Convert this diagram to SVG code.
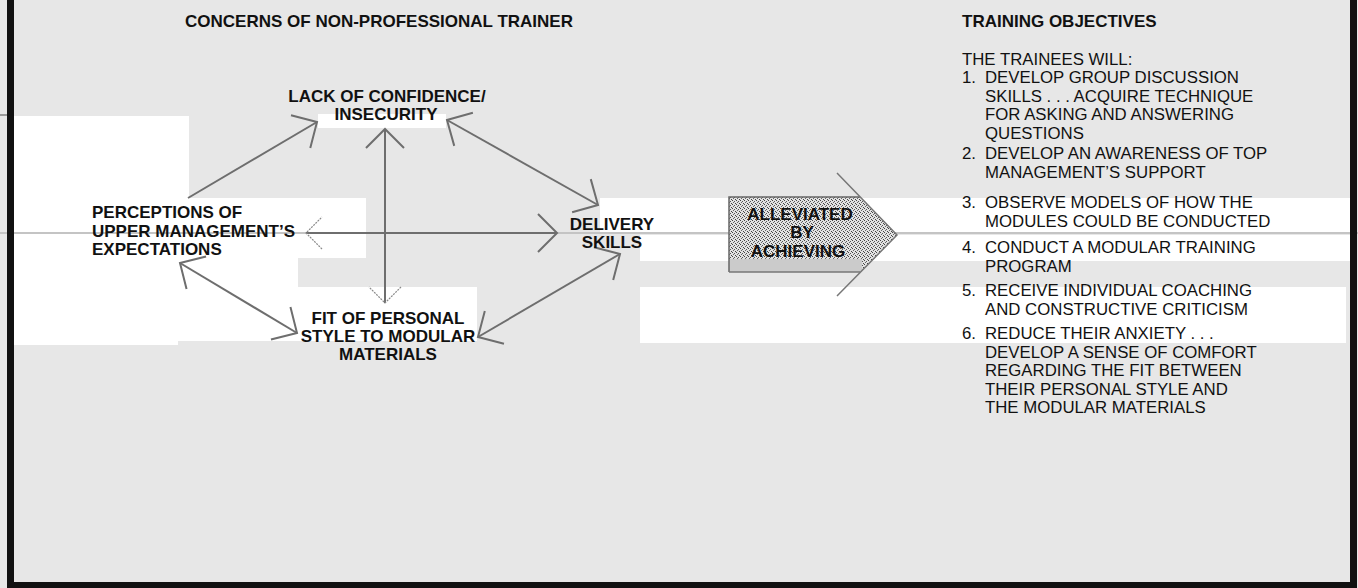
<svg xmlns="http://www.w3.org/2000/svg" width="1358" height="588" viewBox="0 0 1358 588">
<style>
.bg{fill:#e7e7e7}
.wh{fill:#ffffff}
.t{font-family:"Liberation Sans",Arial,sans-serif;fill:#111}
.b{font-weight:bold;font-size:17px}
.r{font-size:16.8px}
.c{text-anchor:middle}
.con{stroke:#6e6e6e;stroke-width:2;fill:none}
</style>
<defs>
<marker id="ah" markerUnits="userSpaceOnUse" viewBox="-25 -25 30 50" refX="0" refY="0" markerWidth="30" markerHeight="50" orient="auto-start-reverse" overflow="visible">
<path d="M -19 -19 L 0 0 L -19 19" fill="none" stroke="#6e6e6e" stroke-width="2"/>
</marker>
<marker id="ahl" markerUnits="userSpaceOnUse" viewBox="-25 -25 30 50" refX="0" refY="0" markerWidth="30" markerHeight="50" orient="auto-start-reverse" overflow="visible">
<path d="M -16 -16 L 0 0 L -16 16" fill="none" stroke="#8a8a8a" stroke-width="1.2" stroke-dasharray="2 1"/>
</marker>
<pattern id="stip" width="4" height="4" patternUnits="userSpaceOnUse">
<rect width="4" height="4" fill="#e2e2e2"/>
<rect x="0" y="0" width="1" height="1" fill="#444"/>
<rect x="2" y="1" width="1" height="1" fill="#555"/>
<rect x="1" y="2" width="1" height="1" fill="#666"/>
<rect x="3" y="3" width="1" height="1" fill="#444"/>
</pattern>
</defs>

<g id="background">
<rect class="bg" x="0" y="0" width="1358" height="588"/>
<rect class="wh" x="13" y="116" width="176" height="142"/>
<rect class="wh" x="13" y="198" width="353" height="60"/>
<rect class="wh" x="13" y="258" width="165" height="87"/>
<rect class="wh" x="178" y="258" width="120" height="83"/>
<rect class="wh" x="298" y="287" width="179" height="54"/>
<rect class="wh" x="318" y="114" width="128" height="14"/>
<rect class="wh" x="600" y="198" width="750" height="35"/>
<rect class="wh" x="640" y="235" width="710" height="26"/>
<rect class="wh" x="640" y="287" width="706" height="56"/>
<line x1="0" y1="233" x2="1358" y2="233" stroke="#c4c4c4" stroke-width="2"/>
<line x1="0" y1="115" x2="14" y2="115" stroke="#9a9a9a" stroke-width="2"/>
<rect x="7" y="0" width="7" height="588" fill="#111"/>
<rect x="1350" y="0" width="7" height="588" fill="#111"/>
<rect x="7" y="582" width="1350" height="6" fill="#111"/>
</g>

<g id="connectors">
<line class="con" x1="188" y1="198" x2="317" y2="122" marker-end="url(#ah)"/>
<line class="con" x1="385" y1="129" x2="385" y2="303" marker-start="url(#ah)" marker-end="url(#ahl)"/>
<line class="con" x1="306" y1="233" x2="557" y2="233" marker-start="url(#ahl)" marker-end="url(#ah)"/>
<line class="con" x1="447" y1="120" x2="598" y2="205" marker-start="url(#ah)" marker-end="url(#ah)"/>
<line class="con" x1="180" y1="263" x2="297" y2="333" marker-start="url(#ah)" marker-end="url(#ah)"/>
<line class="con" x1="620" y1="254" x2="478" y2="337" marker-start="url(#ah)" marker-end="url(#ah)"/>
</g>

<g id="title-concerns">
<text class="t b c" x="379" y="27">CONCERNS OF NON-PROFESSIONAL TRAINER</text>
</g>

<g id="node-lack">
<text class="t b c" x="387" y="102">LACK OF CONFIDENCE/</text>
<text class="t b c" x="386" y="120">INSECURITY</text>
</g>

<g id="node-perceptions">
<text class="t b" x="92" y="218">PERCEPTIONS OF</text>
<text class="t b" x="92" y="236.5">UPPER MANAGEMENT’S</text>
<text class="t b" x="92" y="255">EXPECTATIONS</text>
</g>

<g id="node-delivery">
<text class="t b c" x="612" y="230">DELIVERY</text>
<text class="t b c" x="612" y="248">SKILLS</text>
</g>

<g id="node-fit">
<text class="t b c" x="388" y="324">FIT OF PERSONAL</text>
<text class="t b c" x="388" y="342">STYLE TO MODULAR</text>
<text class="t b c" x="388" y="360">MATERIALS</text>
</g>

<g id="node-alleviated">
<polygon points="729,197 860,197 897,235 860,272 729,272" fill="url(#stip)"/>
<rect x="729" y="259" width="133" height="13" fill="#cbcbcb"/>
<polyline points="729,272 729,197 860,197" fill="none" stroke="#666" stroke-width="1.5"/>
<line x1="729" y1="272" x2="860" y2="272" stroke="#777" stroke-width="1.5"/>
<polyline points="837,173 897,235 837,296" fill="none" stroke="#777" stroke-width="1.5"/>
<text class="t b c" x="800" y="220">ALLEVIATED</text>
<text class="t b c" x="802" y="238">BY</text>
<text class="t b c" x="798" y="257">ACHIEVING</text>
</g>

<g id="objectives">
<text class="t b" x="962" y="27">TRAINING OBJECTIVES</text>
<text class="t r" x="962" y="64.5">THE TRAINEES WILL:</text>
<text class="t r" x="962" y="83">1.</text>
<text class="t r" x="985" y="83">DEVELOP GROUP DISCUSSION</text>
<text class="t r" x="985" y="101.5">SKILLS . . . ACQUIRE TECHNIQUE</text>
<text class="t r" x="985" y="120">FOR ASKING AND ANSWERING</text>
<text class="t r" x="985" y="138.5">QUESTIONS</text>
<text class="t r" x="962" y="159">2.</text>
<text class="t r" x="985" y="159">DEVELOP AN AWARENESS OF TOP</text>
<text class="t r" x="985" y="177.5">MANAGEMENT’S SUPPORT</text>
<text class="t r" x="962" y="208">3.</text>
<text class="t r" x="985" y="208">OBSERVE MODELS OF HOW THE</text>
<text class="t r" x="985" y="226.5">MODULES COULD BE CONDUCTED</text>
<text class="t r" x="962" y="253">4.</text>
<text class="t r" x="985" y="253">CONDUCT A MODULAR TRAINING</text>
<text class="t r" x="985" y="271.5">PROGRAM</text>
<text class="t r" x="962" y="296">5.</text>
<text class="t r" x="985" y="296">RECEIVE INDIVIDUAL COACHING</text>
<text class="t r" x="985" y="314.5">AND CONSTRUCTIVE CRITICISM</text>
<text class="t r" x="962" y="339">6.</text>
<text class="t r" x="985" y="339">REDUCE THEIR ANXIETY . . .</text>
<text class="t r" x="985" y="357.5">DEVELOP A SENSE OF COMFORT</text>
<text class="t r" x="985" y="376">REGARDING THE FIT BETWEEN</text>
<text class="t r" x="985" y="394.5">THEIR PERSONAL STYLE AND</text>
<text class="t r" x="985" y="413">THE MODULAR MATERIALS</text>
</g>
</svg>
